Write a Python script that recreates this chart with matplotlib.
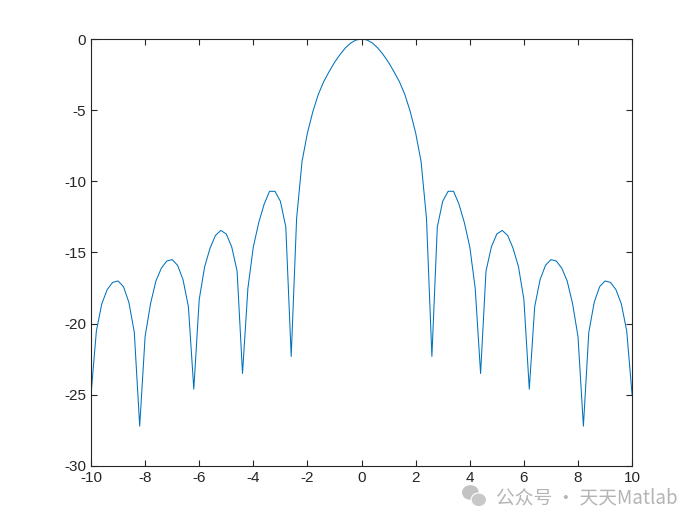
import numpy as np
import matplotlib
matplotlib.use('Agg')
import matplotlib.pyplot as plt
from matplotlib.patches import Ellipse

# sample grid (step 0.2) and the dB values
x = np.linspace(-10, 10, 101)
right_db = [0, -0.07, -0.28, -0.63, -1.1, -1.65, -2.3, -3.0, -3.9, -5.1,
            -6.6, -8.6, -12.6, -22.3, -13.2, -11.4, -10.7, -10.7, -11.6, -12.9,
            -14.6, -17.5, -23.5, -16.3, -14.6, -13.7, -13.45, -13.8, -14.7, -16.0,
            -18.3, -24.6, -18.8, -16.9, -15.9, -15.5, -15.6, -16.1, -17.0, -18.6,
            -20.9, -27.2, -20.6, -18.5, -17.4, -17.0, -17.1, -17.6, -18.6, -20.5,
            -25.0]
# the pattern is symmetric about 0
y_db = right_db[:0:-1] + right_db

xticks = [-10, -8, -6, -4, -2, 0, 2, 4, 6, 8, 10]
yticks = [-30, -25, -20, -15, -10, -5, 0]

plt.rcParams['font.family'] = ['Liberation Sans', 'DejaVu Sans']
plt.rcParams['axes.unicode_minus'] = False

fig = plt.figure(figsize=(7, 5.25), dpi=100)
ax = fig.add_axes([0.13, 0.1124, 0.773, 0.8133])
ax.plot(x, y_db, color='#0072BD', linewidth=0.75)

ax.set_xlim(-10, 10)
ax.set_ylim(-30, 0)
ax.set_xticks(xticks)
ax.set_yticks(yticks)
ax.tick_params(direction='in', length=4, width=0.8, labelsize=11,
               top=True, right=True, colors='#262626')
for s in ax.spines.values():
    s.set_linewidth(0.8)
    s.set_color('#262626')

# watermark (icon + text)
fig.patches.append(Ellipse((0.672, 0.062), 0.024, 0.028, transform=fig.transFigure,
                           facecolor='#bdbdbd', edgecolor='none', alpha=0.9))
fig.patches.append(Ellipse((0.684, 0.048), 0.022, 0.026, transform=fig.transFigure,
                           facecolor='#c8c8c8', edgecolor='white', linewidth=0.8))
fig.text(0.708, 0.052, '公众号 · 天天Matlab', fontsize=13.5, color='#b4b4b4',
         family=['Noto Sans CJK SC', 'DejaVu Sans'], va='center')

fig.savefig('out.png', dpi=100)
